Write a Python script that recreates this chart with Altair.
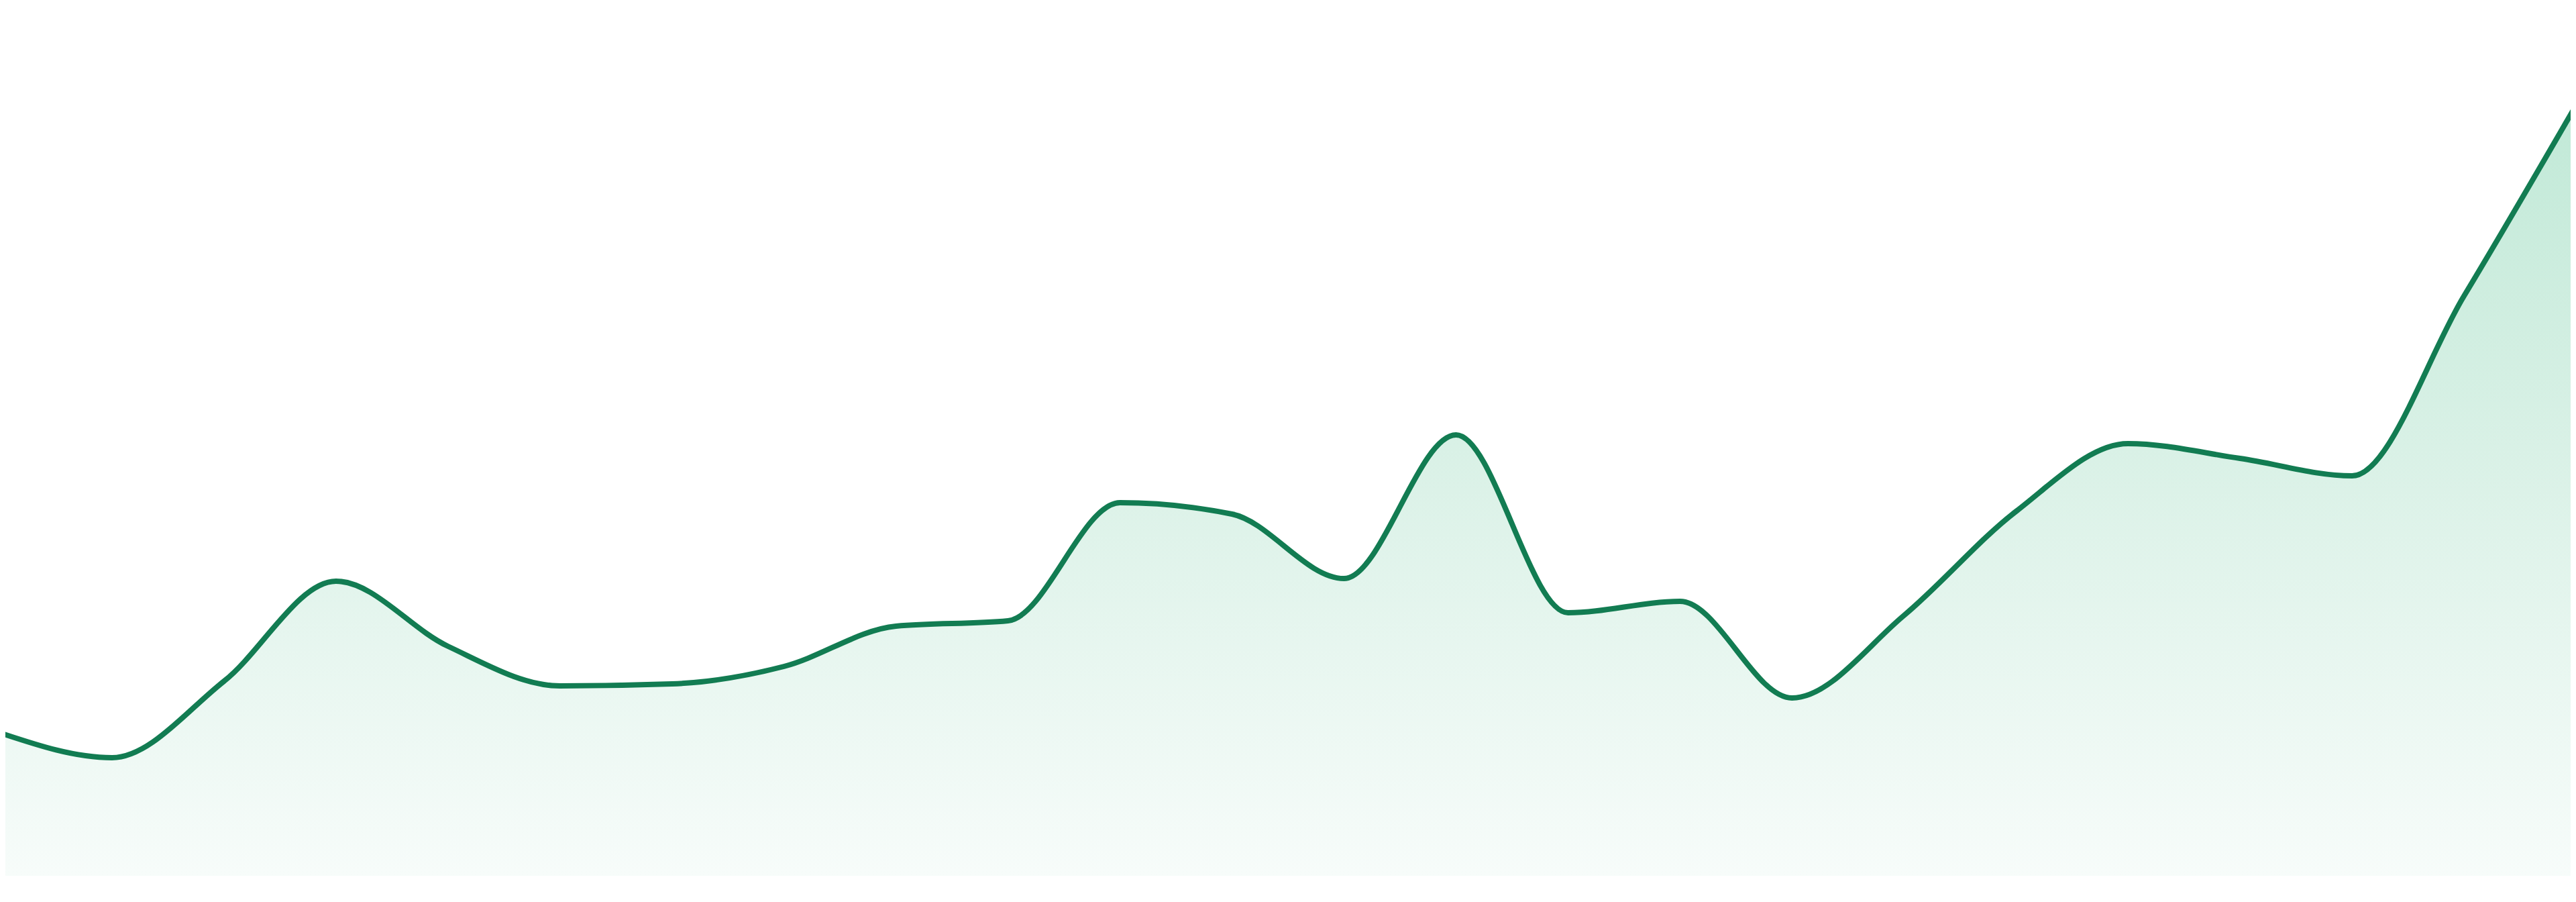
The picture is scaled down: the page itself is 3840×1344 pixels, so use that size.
import altair as alt
import pandas as pd

# Point index along the x axis (evenly spaced samples)
idx = list(range(24))
# Values (pixels above the baseline of the filled area)
values = [213, 176, 290, 439, 342, 283, 286, 312, 372, 380, 556, 539,
          443, 657, 392, 409, 265, 388, 543, 644, 622, 596, 864, 1148]

df = pd.DataFrame({"i": idx, "v": values})

x_enc = alt.X("i:Q", axis=None,
              scale=alt.Scale(domain=[0.0479, 22.952], nice=False, zero=False))
y_enc = alt.Y("v:Q", axis=None,
              scale=alt.Scale(domain=[0, 1297], nice=False, zero=True))

area = alt.Chart(df).mark_area(
    interpolate="monotone",
    color=alt.Gradient(
        gradient="linear",
        stops=[alt.GradientStop(color="#c1e9d7", offset=0),
               alt.GradientStop(color="#dcf2e8", offset=0.5),
               alt.GradientStop(color="#f7fcfa", offset=1)],
        x1=0, x2=0, y1=0, y2=1,
    ),
).encode(x=x_enc, y=y_enc)

line = alt.Chart(df).mark_line(
    interpolate="monotone", color="#127c52", strokeWidth=8, strokeCap="round"
).encode(x=x_enc, y=y_enc)

chart = alt.layer(area, line).properties(
    width=3824, height=1297, padding=0, autosize="none", background="white"
).configure_view(stroke=None)

chart.save("out.html", embed_options={"renderer": "svg", "actions": False})
